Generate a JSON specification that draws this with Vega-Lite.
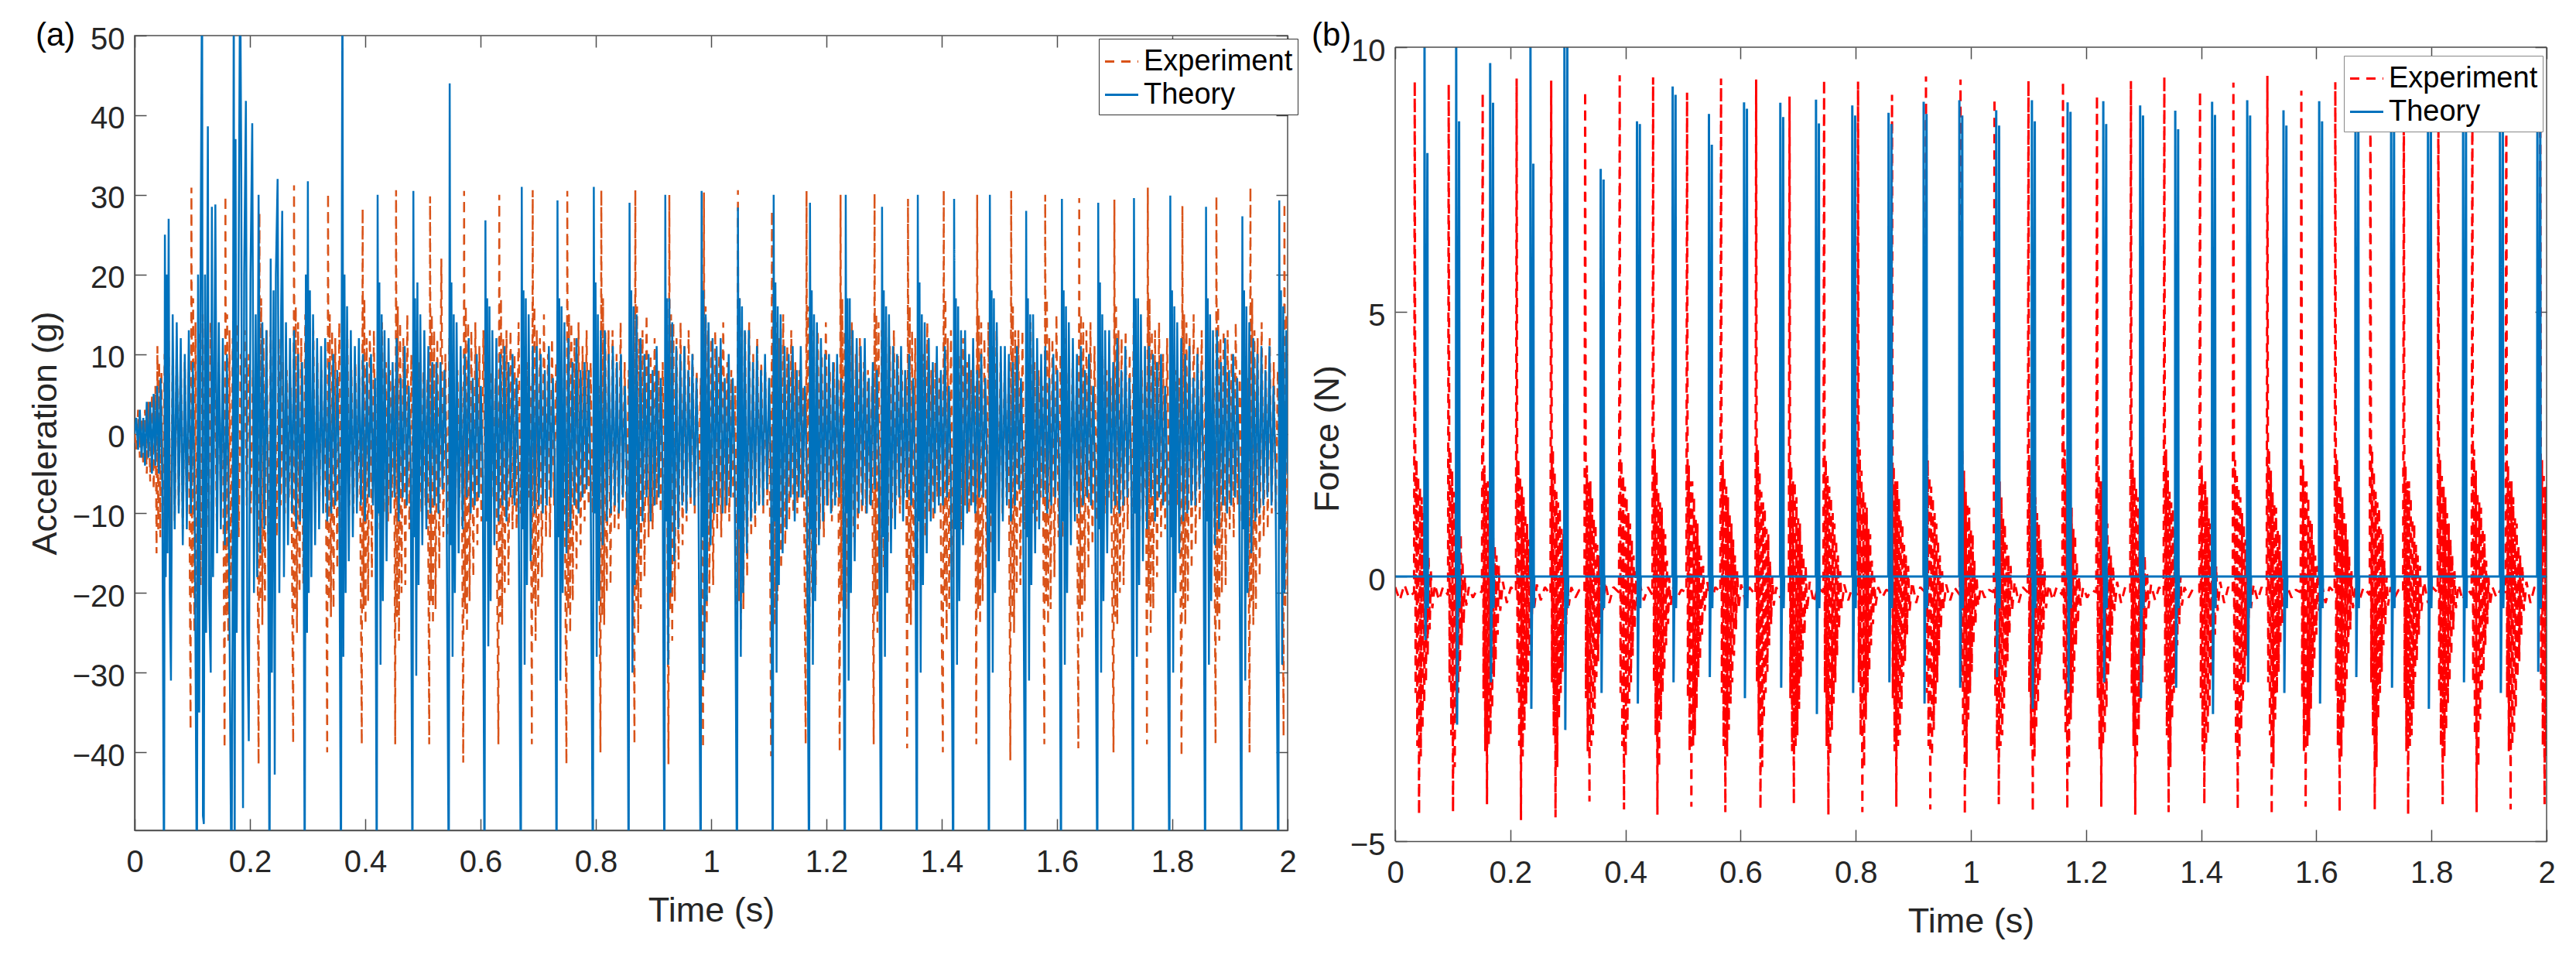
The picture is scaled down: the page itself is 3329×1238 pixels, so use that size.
{
"$schema":"https://vega.github.io/schema/vega-lite/v6.json",
"background":"white",
"padding":{"left":35,"top":24,"right":5,"bottom":5},
"spacing":14,
"config":{
"font":"Liberation Sans",
"view":{"stroke":null},
"axis":{"grid":false,"domainColor":"#4d4d4d","domainWidth":1.5,"tickColor":"#4d4d4d","tickWidth":1.5,"tickSize":-15,"labelColor":"#262626","labelFontSize":40,"labelFont":"Liberation Sans","titleColor":"#262626","titleFontSize":45,"titleFont":"Liberation Sans","titleFontWeight":"normal","labelFlush":false,"labelOverlap":false},
"axisX":{"labelPadding":36,"titlePadding":20},
"axisY":{"labelPadding":28,"titlePadding":6,"labelOffset":5},
"legend":{"fillColor":"white","strokeColor":"#333333","padding":6,"rowPadding":0,"labelFontSize":38,"labelColor":"black","labelFont":"Liberation Sans","labelOffset":5,"labelLimit":500,"symbolType":"stroke","symbolSize":1850,"symbolStrokeWidth":3},
"title":{"fontSize":42,"fontWeight":"normal","color":"black","font":"Liberation Sans","anchor":"start","frame":"group","baseline":"alphabetic","offset":0}
},
"resolve":{"scale":{"color":"independent","strokeDash":"independent"}},
"datasets":{
"ab":[{"t":0,"v":0},{"t":3,"v":2},{"t":6,"v":-2},{"t":9,"v":3},{"t":12,"v":-3},{"t":15,"v":2},{"t":18,"v":-4},{"t":21,"v":4},{"t":24,"v":-3},{"t":27,"v":4},{"t":30,"v":-5},{"t":33,"v":5},{"t":36,"v":-4},{"t":39,"v":6},{"t":42,"v":-5},{"t":45,"v":7},{"t":48,"v":-6},
{"t":51,"v":-60},{"t":52.5,"v":25},{"t":54,"v":-18},{"t":55.5,"v":20},{"t":57,"v":-15},{"t":59,"v":27},{"t":61,"v":-20},{"t":63,"v":-31},{"t":66,"v":15},{"t":69.5,"v":-12},{"t":73,"v":14},{"t":76.5,"v":-10},{"t":80,"v":12},{"t":83.5,"v":-14},{"t":87,"v":10},{"t":90.5,"v":-12},{"t":94,"v":13},{"t":97.5,"v":-10},{"t":101,"v":9},{"t":104.5,"v":-12},
{"t":108,"v":-60},{"t":110,"v":20},{"t":112,"v":-35},{"t":114,"v":15},{"t":117,"v":60},{"t":118.5,"v":-48},{"t":120,"v":-49},{"t":122,"v":20},{"t":124,"v":-25},{"t":127,"v":38.6},{"t":129,"v":-20},{"t":132,"v":-30},{"t":134,"v":28.5},{"t":136,"v":-18},{"t":140,"v":28.8},{"t":143,"v":-15},{"t":146,"v":14},{"t":149.5,"v":-12},{"t":153,"v":12},{"t":156.5,"v":-14},{"t":160,"v":10},{"t":163.5,"v":-12},
{"t":168,"v":-60},{"t":170,"v":-20},{"t":172,"v":60},{"t":173.5,"v":-60},{"t":175,"v":37},{"t":177,"v":-25},{"t":180,"v":15},{"t":183,"v":60},{"t":185,"v":32},{"t":186.5,"v":-20},{"t":188,"v":-47},{"t":190,"v":20},{"t":193,"v":41.8},{"t":195.5,"v":-25},{"t":198,"v":-38.6},{"t":201,"v":20},{"t":204,"v":39},{"t":207,"v":-20},{"t":210,"v":15},{"t":212.5,"v":-18},{"t":215,"v":30},{"t":218,"v":-15},{"t":221.5,"v":14},{"t":225,"v":-12},{"t":228.5,"v":13},{"t":231.5,"v":-10},
{"t":234,"v":-60},{"t":236,"v":22},{"t":238,"v":-30},{"t":241,"v":18},{"t":243,"v":-42.8},{"t":245,"v":20},{"t":248,"v":32},{"t":251,"v":-20},{"t":254,"v":15},{"t":256,"v":28},{"t":259,"v":-18},{"t":262.5,"v":14},{"t":266,"v":-14},{"t":269.5,"v":12},{"t":273,"v":-10},{"t":276.5,"v":13},{"t":280,"v":-12},{"t":283.5,"v":10},{"t":287,"v":-11},{"t":290.5,"v":9},{"t":293,"v":-6},
{"t":295,"v":-60},{"t":297,"v":20},{"t":299,"v":-25},{"t":300.5,"v":31.7},{"t":302,"v":-20},{"t":304,"v":18},{"t":306.5,"v":-18},{"t":309.5,"v":15},{"t":313,"v":-14},{"t":316.5,"v":12},{"t":320,"v":-12},{"t":323.5,"v":11},{"t":327,"v":-10},{"t":330.5,"v":12},{"t":334,"v":-11},{"t":337.5,"v":9},{"t":341,"v":-10},{"t":344.5,"v":10},{"t":348,"v":-9},{"t":351.5,"v":8},{"t":355,"v":-7},
{"t":358,"v":-60},{"t":359.5,"v":29},{"t":360.5,"v":60},{"t":362,"v":-28},{"t":364,"v":20},{"t":366,"v":-20},{"t":368.5,"v":16},{"t":371.5,"v":-16},{"t":375,"v":13},{"t":378.5,"v":-13},{"t":382,"v":11},{"t":385.5,"v":-10},{"t":389,"v":12},{"t":392.5,"v":-9},{"t":396,"v":10},{"t":399.5,"v":-11},{"t":403,"v":9},{"t":406.5,"v":-8},{"t":410,"v":10},{"t":413.5,"v":-9},{"t":417,"v":7},
{"t":420,"v":-60},{"t":421.5,"v":30},{"t":423,"v":-10},{"t":424.5,"v":19},{"t":426.5,"v":-29},{"t":428.5,"v":15},{"t":430.5,"v":-21},{"t":433.5,"v":13},{"t":437,"v":-16},{"t":440.5,"v":12},{"t":444,"v":-10},{"t":447.5,"v":9},{"t":451,"v":-8},{"t":454.5,"v":12},{"t":458,"v":-11},{"t":461.5,"v":7},{"t":465,"v":-8},{"t":468.5,"v":11},{"t":472,"v":-9},{"t":475.5,"v":6},{"t":479,"v":-5},
{"t":482,"v":-60},{"t":483.5,"v":30.5},{"t":485,"v":-13},{"t":486.5,"v":17},{"t":488.5,"v":-30.4},{"t":490.5,"v":19},{"t":492.5,"v":-19},{"t":495.5,"v":15},{"t":499,"v":-14},{"t":502.5,"v":13},{"t":506,"v":-12},{"t":509.5,"v":11},{"t":513,"v":-10},{"t":516.5,"v":9},{"t":520,"v":-9},{"t":523.5,"v":9},{"t":527,"v":-10},{"t":530.5,"v":9},{"t":534,"v":-7},{"t":537.5,"v":8},{"t":541,"v":-6},
{"t":545,"v":-60},{"t":546.5,"v":44},{"t":548,"v":-14},{"t":549.5,"v":19},{"t":551.5,"v":-28},{"t":553.5,"v":15},{"t":555.5,"v":-20},{"t":558.5,"v":14},{"t":562,"v":-15},{"t":565.5,"v":11},{"t":569,"v":-12},{"t":572.5,"v":10},{"t":576,"v":-8},{"t":579.5,"v":12},{"t":583,"v":-10},{"t":586.5,"v":7},{"t":590,"v":-9},{"t":593.5,"v":10},{"t":597,"v":-8},{"t":600.5,"v":6},{"t":604,"v":-6},
{"t":607,"v":-60},{"t":608.5,"v":26.8},{"t":610,"v":-11},{"t":611.5,"v":17},{"t":613.5,"v":-26.7},{"t":615.5,"v":16},{"t":617.5,"v":-21},{"t":620.5,"v":13},{"t":624,"v":-14},{"t":627.5,"v":12},{"t":631,"v":-11},{"t":634.5,"v":10},{"t":638,"v":-9},{"t":641.5,"v":11},{"t":645,"v":-11},{"t":648.5,"v":9},{"t":652,"v":-8},{"t":655.5,"v":10},{"t":659,"v":-9},{"t":662.5,"v":7},{"t":666,"v":-6},
{"t":670,"v":-60},{"t":671.5,"v":31},{"t":673,"v":-12},{"t":674.5,"v":18},{"t":676.5,"v":-29},{"t":678.5,"v":17},{"t":680.5,"v":-19},{"t":683.5,"v":15},{"t":687,"v":-16},{"t":690.5,"v":11},{"t":694,"v":-10},{"t":697.5,"v":11},{"t":701,"v":-9},{"t":704.5,"v":10},{"t":708,"v":-10},{"t":711.5,"v":8},{"t":715,"v":-9},{"t":718.5,"v":11},{"t":722,"v":-8},{"t":725.5,"v":7},{"t":729,"v":-5},
{"t":732,"v":-60},{"t":733.5,"v":29.3},{"t":735,"v":-13},{"t":736.5,"v":17},{"t":738.5,"v":-31},{"t":740.5,"v":16},{"t":742.5,"v":-20},{"t":745.5,"v":14},{"t":749,"v":-15},{"t":752.5,"v":12},{"t":756,"v":-12},{"t":759.5,"v":9},{"t":763,"v":-9},{"t":766.5,"v":12},{"t":770,"v":-10},{"t":773.5,"v":8},{"t":777,"v":-8},{"t":780.5,"v":9},{"t":784,"v":-7},{"t":787.5,"v":8},{"t":791,"v":-6},
{"t":795,"v":-60},{"t":796.5,"v":31},{"t":798,"v":-10},{"t":799.5,"v":19},{"t":801.5,"v":-28},{"t":803.5,"v":15},{"t":805.5,"v":-21},{"t":808.5,"v":13},{"t":812,"v":-14},{"t":815.5,"v":13},{"t":819,"v":-11},{"t":822.5,"v":10},{"t":826,"v":-10},{"t":829.5,"v":11},{"t":833,"v":-9},{"t":836.5,"v":9},{"t":840,"v":-10},{"t":843.5,"v":10},{"t":847,"v":-8},{"t":850.5,"v":6},{"t":854,"v":-6},
{"t":857,"v":-60},{"t":858.5,"v":29},{"t":860,"v":-12},{"t":861.5,"v":18},{"t":863.5,"v":-30},{"t":865.5,"v":16},{"t":867.5,"v":-19},{"t":870.5,"v":15},{"t":874,"v":-15},{"t":877.5,"v":12},{"t":881,"v":-11},{"t":884.5,"v":10},{"t":888,"v":-8},{"t":891.5,"v":10},{"t":895,"v":-11},{"t":898.5,"v":8},{"t":902,"v":-9},{"t":905.5,"v":11},{"t":909,"v":-8},{"t":912.5,"v":7},{"t":916,"v":-5},
{"t":919,"v":-60},{"t":920.5,"v":30},{"t":922,"v":-11},{"t":923.5,"v":17},{"t":925.5,"v":-29},{"t":927.5,"v":17},{"t":929.5,"v":-20},{"t":932.5,"v":14},{"t":936,"v":-16},{"t":939.5,"v":11},{"t":943,"v":-12},{"t":946.5,"v":10},{"t":950,"v":-9},{"t":953.5,"v":11},{"t":957,"v":-10},{"t":960.5,"v":8},{"t":964,"v":-8},{"t":967.5,"v":10},{"t":971,"v":-9},{"t":974.5,"v":7},{"t":978,"v":-6},
{"t":982,"v":-60},{"t":983.5,"v":30.5},{"t":985,"v":-13},{"t":986.5,"v":18},{"t":988.5,"v":-30},{"t":990.5,"v":15},{"t":992.5,"v":-21},{"t":995.5,"v":14},{"t":999,"v":-14},{"t":1002.5,"v":12},{"t":1006,"v":-10},{"t":1009.5,"v":11},{"t":1013,"v":-9},{"t":1016.5,"v":12},{"t":1020,"v":-10},{"t":1023.5,"v":7},{"t":1027,"v":-9},{"t":1030.5,"v":10},{"t":1034,"v":-8},{"t":1037.5,"v":7},{"t":1041,"v":-6},
{"t":1045,"v":-60},{"t":1046.5,"v":28.4},{"t":1048,"v":-12},{"t":1049.5,"v":17},{"t":1051.5,"v":-28},{"t":1053.5,"v":16},{"t":1055.5,"v":-20},{"t":1058.5,"v":13},{"t":1062,"v":-15},{"t":1065.5,"v":13},{"t":1069,"v":-11},{"t":1072.5,"v":9},{"t":1076,"v":-10},{"t":1079.5,"v":11},{"t":1083,"v":-9},{"t":1086.5,"v":8},{"t":1090,"v":-9},{"t":1093.5,"v":10},{"t":1097,"v":-7},{"t":1100.5,"v":7},{"t":1104,"v":-6},
{"t":1107,"v":-60},{"t":1108.5,"v":30},{"t":1110,"v":-11},{"t":1111.5,"v":19},{"t":1113.5,"v":-30},{"t":1115.5,"v":16},{"t":1117.5,"v":-19},{"t":1120.5,"v":15},{"t":1124,"v":-15},{"t":1127.5,"v":11},{"t":1131,"v":-12},{"t":1134.5,"v":10},{"t":1138,"v":-8},{"t":1141.5,"v":11},{"t":1145,"v":-11},{"t":1148.5,"v":8},{"t":1152,"v":-8},{"t":1155.5,"v":11},{"t":1159,"v":-8},{"t":1162.5,"v":6},{"t":1166,"v":-5},
{"t":1170,"v":-60},{"t":1171.5,"v":29},{"t":1173,"v":-12},{"t":1174.5,"v":18},{"t":1176.5,"v":-29},{"t":1178.5,"v":15},{"t":1180.5,"v":-21},{"t":1183.5,"v":14},{"t":1187,"v":-14},{"t":1190.5,"v":12},{"t":1194,"v":-11},{"t":1197.5,"v":10},{"t":1201,"v":-9},{"t":1204.5,"v":10},{"t":1208,"v":-10},{"t":1211.5,"v":9},{"t":1215,"v":-9},{"t":1218.5,"v":10},{"t":1222,"v":-8},{"t":1225.5,"v":7},{"t":1229,"v":-6},
{"t":1232,"v":-60},{"t":1233.5,"v":30},{"t":1235,"v":-10},{"t":1236.5,"v":17},{"t":1238.5,"v":-31},{"t":1240.5,"v":17},{"t":1242.5,"v":-20},{"t":1245.5,"v":13},{"t":1249,"v":-16},{"t":1252.5,"v":12},{"t":1256,"v":-10},{"t":1259.5,"v":11},{"t":1263,"v":-9},{"t":1266.5,"v":12},{"t":1270,"v":-10},{"t":1273.5,"v":7},{"t":1277,"v":-9},{"t":1280.5,"v":9},{"t":1284,"v":-7},{"t":1287.5,"v":8},{"t":1291,"v":-5},
{"t":1295,"v":-60},{"t":1296.5,"v":28.5},{"t":1298,"v":-13},{"t":1299.5,"v":18},{"t":1301.5,"v":-28},{"t":1303.5,"v":16},{"t":1305.5,"v":-20},{"t":1308.5,"v":15},{"t":1312,"v":-15},{"t":1315.5,"v":11},{"t":1319,"v":-12},{"t":1322.5,"v":10},{"t":1326,"v":-8},{"t":1329.5,"v":11},{"t":1333,"v":-11},{"t":1336.5,"v":8},{"t":1340,"v":-8},{"t":1343.5,"v":10},{"t":1347,"v":-9},{"t":1350.5,"v":7},{"t":1354,"v":-6},
{"t":1357,"v":-60},{"t":1358.5,"v":30},{"t":1360,"v":-11},{"t":1361.5,"v":19},{"t":1363.5,"v":-30},{"t":1365.5,"v":15},{"t":1367.5,"v":-19},{"t":1370.5,"v":14},{"t":1374,"v":-15},{"t":1377.5,"v":12},{"t":1381,"v":-11},{"t":1384.5,"v":9},{"t":1388,"v":-10},{"t":1391.5,"v":11},{"t":1395,"v":-9},{"t":1398.5,"v":8},{"t":1402,"v":-9},{"t":1405.5,"v":11},{"t":1409,"v":-8},{"t":1412.5,"v":6},{"t":1416,"v":-6},
{"t":1420,"v":-60},{"t":1421.5,"v":29.5},{"t":1423,"v":-12},{"t":1424.5,"v":17},{"t":1426.5,"v":-29},{"t":1428.5,"v":16},{"t":1430.5,"v":-21},{"t":1433.5,"v":13},{"t":1437,"v":-14},{"t":1440.5,"v":13},{"t":1444,"v":-10},{"t":1447.5,"v":10},{"t":1451,"v":-9},{"t":1454.5,"v":12},{"t":1458,"v":-10},{"t":1461.5,"v":8},{"t":1465,"v":-8},{"t":1468.5,"v":10},{"t":1472,"v":-8},{"t":1475.5,"v":7},{"t":1479,"v":-5},
{"t":1482,"v":-60},{"t":1483.5,"v":30},{"t":1485,"v":-10},{"t":1486.5,"v":18},{"t":1488.5,"v":-30},{"t":1490.5,"v":17},{"t":1492.5,"v":-20},{"t":1495.5,"v":14},{"t":1499,"v":-16},{"t":1502.5,"v":11},{"t":1506,"v":-11},{"t":1509.5,"v":11},{"t":1513,"v":-9},{"t":1516.5,"v":10},{"t":1520,"v":-11},{"t":1523.5,"v":9},{"t":1527,"v":-9},{"t":1530.5,"v":11},{"t":1534,"v":-7},{"t":1537.5,"v":7},{"t":1541,"v":-6},
{"t":1545,"v":-60},{"t":1546.5,"v":28},{"t":1548,"v":-13},{"t":1549.5,"v":17},{"t":1551.5,"v":-31},{"t":1553.5,"v":15},{"t":1555.5,"v":-19},{"t":1558.5,"v":15},{"t":1562,"v":-15},{"t":1565.5,"v":12},{"t":1569,"v":-12},{"t":1572.5,"v":10},{"t":1576,"v":-8},{"t":1579.5,"v":11},{"t":1583,"v":-10},{"t":1586.5,"v":7},{"t":1590,"v":-9},{"t":1593.5,"v":10},{"t":1597,"v":-8},{"t":1600.5,"v":8},{"t":1604,"v":-6},
{"t":1607,"v":-60},{"t":1608.5,"v":29.5},{"t":1610,"v":-11},{"t":1611.5,"v":18},{"t":1613.5,"v":-29},{"t":1615.5,"v":16},{"t":1617.5,"v":-20},{"t":1620.5,"v":14},{"t":1624,"v":-14},{"t":1627.5,"v":12},{"t":1631,"v":-11},{"t":1634.5,"v":10},{"t":1638,"v":-10},{"t":1641.5,"v":11},{"t":1645,"v":-9},{"t":1648.5,"v":8},{"t":1652,"v":-8},{"t":1655.5,"v":10},{"t":1659,"v":-9},{"t":1662.5,"v":6},{"t":1666,"v":-5},
{"t":1670,"v":-60},{"t":1671.5,"v":29},{"t":1673,"v":-12},{"t":1674.5,"v":19},{"t":1676.5,"v":-30},{"t":1678.5,"v":15},{"t":1680.5,"v":-21},{"t":1683.5,"v":13},{"t":1687,"v":-15},{"t":1690.5,"v":13},{"t":1694,"v":-10},{"t":1697.5,"v":9},{"t":1701,"v":-9},{"t":1704.5,"v":12},{"t":1708,"v":-10},{"t":1711.5,"v":8},{"t":1715,"v":-9},{"t":1718.5,"v":11},{"t":1722,"v":-8},{"t":1725.5,"v":7},{"t":1729,"v":-6},
{"t":1732,"v":-60},{"t":1733.5,"v":29.6},{"t":1735,"v":-10},{"t":1736.5,"v":17},{"t":1738.5,"v":-28},{"t":1740.5,"v":17},{"t":1742.5,"v":-19},{"t":1745.5,"v":15},{"t":1749,"v":-16},{"t":1752.5,"v":11},{"t":1756,"v":-12},{"t":1759.5,"v":11},{"t":1763,"v":-8},{"t":1766.5,"v":10},{"t":1770,"v":-11},{"t":1773.5,"v":9},{"t":1777,"v":-8},{"t":1780.5,"v":10},{"t":1784,"v":-9},{"t":1787.5,"v":6},{"t":1791,"v":-5},
{"t":1795,"v":-60},{"t":1796.5,"v":29.9},{"t":1798,"v":-13},{"t":1799.5,"v":18},{"t":1801.5,"v":-30},{"t":1803.5,"v":16},{"t":1805.5,"v":-20},{"t":1808.5,"v":14},{"t":1812,"v":-15},{"t":1815.5,"v":12},{"t":1819,"v":-11},{"t":1822.5,"v":10},{"t":1826,"v":-10},{"t":1829.5,"v":11},{"t":1833,"v":-9},{"t":1836.5,"v":7},{"t":1840,"v":-9},{"t":1843.5,"v":10},{"t":1847,"v":-7},{"t":1850.5,"v":8},{"t":1854,"v":-6},
{"t":1857,"v":-60},{"t":1858.5,"v":28.5},{"t":1860,"v":-11},{"t":1861.5,"v":17},{"t":1863.5,"v":-29},{"t":1865.5,"v":15},{"t":1867.5,"v":-21},{"t":1870.5,"v":13},{"t":1874,"v":-14},{"t":1877.5,"v":13},{"t":1881,"v":-12},{"t":1884.5,"v":9},{"t":1888,"v":-9},{"t":1891.5,"v":12},{"t":1895,"v":-10},{"t":1898.5,"v":8},{"t":1902,"v":-9},{"t":1905.5,"v":10},{"t":1909,"v":-8},{"t":1912.5,"v":7},{"t":1916,"v":-6},
{"t":1920,"v":-60},{"t":1921.5,"v":27.3},{"t":1923,"v":-12},{"t":1924.5,"v":18},{"t":1926.5,"v":-31},{"t":1928.5,"v":16},{"t":1930.5,"v":-20},{"t":1933.5,"v":14},{"t":1937,"v":-15},{"t":1940.5,"v":12},{"t":1944,"v":-11},{"t":1947.5,"v":10},{"t":1951,"v":-10},{"t":1954.5,"v":11},{"t":1958,"v":-9},{"t":1961.5,"v":8},{"t":1965,"v":-8},{"t":1968.5,"v":11},{"t":1972,"v":-9},{"t":1975.5,"v":6},{"t":1979,"v":-5},
{"t":1984,"v":-60},{"t":1985.5,"v":29.3},{"t":1987,"v":-12},{"t":1988.5,"v":18},{"t":1990.5,"v":-29},{"t":1992.5,"v":16},{"t":1994.5,"v":-20},{"t":1997.5,"v":13},{"t":2000,"v":-5}],
"ae":[{"t":0,"v":0},{"t":3,"v":-2},{"t":6,"v":3},{"t":9,"v":-3},{"t":12,"v":2},{"t":15,"v":-4},{"t":18,"v":3},{"t":21,"v":-5},{"t":24,"v":4},{"t":27,"v":-6},{"t":30,"v":5},{"t":33,"v":-7},{"t":36,"v":6},
{"t":38,"v":-15},{"t":39.5,"v":11},{"t":41,"v":-12},{"t":42.5,"v":9},{"t":44.5,"v":-13},{"t":46.5,"v":8},{"t":49,"v":-12},{"t":52,"v":10},{"t":55.5,"v":-14},{"t":59,"v":12},{"t":62.5,"v":-16},{"t":66,"v":9},{"t":69.5,"v":-11},{"t":73,"v":11},{"t":76.5,"v":-9},{"t":80,"v":10},{"t":83.5,"v":-12},{"t":87,"v":9},{"t":90.5,"v":-10},{"t":94,"v":8},
{"t":97,"v":-37.2},{"t":98.5,"v":30.9},{"t":100,"v":-20},{"t":101.5,"v":17},{"t":103.5,"v":-25},{"t":105.5,"v":14},{"t":108,"v":-22},{"t":111,"v":13},{"t":114.5,"v":-19},{"t":118,"v":15},{"t":121.5,"v":-14},{"t":125,"v":11},{"t":128.5,"v":-12},{"t":132,"v":14},{"t":135.5,"v":-10},{"t":139,"v":9},{"t":142.5,"v":-11},{"t":146,"v":9},{"t":149.5,"v":-8},{"t":153,"v":7},
{"t":156,"v":-39.5},{"t":157.5,"v":29.9},{"t":159,"v":-23},{"t":160.5,"v":15},{"t":162.5,"v":-26},{"t":164.5,"v":13},{"t":167,"v":-20},{"t":170,"v":12},{"t":173.5,"v":-17},{"t":177,"v":14},{"t":180.5,"v":-13},{"t":184,"v":10},{"t":187.5,"v":-12},{"t":191,"v":13},{"t":194.5,"v":-9},{"t":198,"v":10},{"t":201.5,"v":-10},{"t":205,"v":8},{"t":208.5,"v":-9},{"t":212,"v":7},
{"t":215,"v":-41.5},{"t":216.5,"v":27.8},{"t":218,"v":-21},{"t":219.5,"v":17},{"t":221.5,"v":-24},{"t":223.5,"v":12},{"t":226,"v":-21},{"t":229,"v":13},{"t":232.5,"v":-18},{"t":236,"v":13},{"t":239.5,"v":-12},{"t":243,"v":10},{"t":246.5,"v":-13},{"t":250,"v":12},{"t":253.5,"v":-9},{"t":257,"v":9},{"t":260.5,"v":-10},{"t":264,"v":8},{"t":267.5,"v":-8},{"t":271,"v":6},
{"t":275,"v":-38.9},{"t":276.5,"v":31.2},{"t":278,"v":-22},{"t":279.5,"v":16},{"t":281.5,"v":-25},{"t":283.5,"v":14},{"t":286,"v":-20},{"t":289,"v":12},{"t":292.5,"v":-19},{"t":296,"v":15},{"t":299.5,"v":-13},{"t":303,"v":11},{"t":306.5,"v":-11},{"t":310,"v":13},{"t":313.5,"v":-10},{"t":317,"v":9},{"t":320.5,"v":-9},{"t":324,"v":8},{"t":327.5,"v":-8},{"t":331,"v":7},
{"t":334,"v":-40},{"t":335.5,"v":30.2},{"t":337,"v":-21},{"t":338.5,"v":15},{"t":340.5,"v":-23},{"t":342.5,"v":13},{"t":345,"v":-22},{"t":348,"v":12},{"t":351.5,"v":-17},{"t":355,"v":14},{"t":358.5,"v":-14},{"t":362,"v":10},{"t":365.5,"v":-12},{"t":369,"v":12},{"t":372.5,"v":-9},{"t":376,"v":8},{"t":379.5,"v":-10},{"t":383,"v":9},{"t":386.5,"v":-8},{"t":390,"v":7},
{"t":394,"v":-39},{"t":395.5,"v":28.3},{"t":397,"v":-22},{"t":398.5,"v":17},{"t":400.5,"v":-24},{"t":402.5,"v":12},{"t":405,"v":-21},{"t":408,"v":13},{"t":411.5,"v":-18},{"t":415,"v":13},{"t":418.5,"v":-13},{"t":422,"v":11},{"t":425.5,"v":-12},{"t":429,"v":14},{"t":432.5,"v":-10},{"t":436,"v":9},{"t":439.5,"v":-11},{"t":443,"v":8},{"t":446.5,"v":-8},{"t":450,"v":6},
{"t":452,"v":-39},{"t":453.5,"v":30.6},{"t":455,"v":-23},{"t":456.5,"v":16},{"t":458.5,"v":-26},{"t":460.5,"v":14},{"t":463,"v":-20},{"t":466,"v":12},{"t":469.5,"v":-19},{"t":473,"v":15},{"t":476.5,"v":-12},{"t":480,"v":10},{"t":483.5,"v":-12},{"t":487,"v":13},{"t":490.5,"v":-9},{"t":494,"v":9},{"t":497.5,"v":-10},{"t":501,"v":8},{"t":504.5,"v":-9},{"t":508,"v":7},
{"t":511,"v":-39},{"t":512.5,"v":29.8},{"t":514,"v":-21},{"t":515.5,"v":15},{"t":517.5,"v":-24},{"t":519.5,"v":13},{"t":522,"v":-22},{"t":525,"v":12},{"t":528.5,"v":-17},{"t":532,"v":22},{"t":535.5,"v":-13},{"t":539,"v":10},{"t":542.5,"v":-13},{"t":546,"v":12},{"t":549.5,"v":-10},{"t":553,"v":9},{"t":556.5,"v":-9},{"t":560,"v":8},{"t":563.5,"v":-8},{"t":567,"v":6},
{"t":570,"v":-41.3},{"t":571.5,"v":30.5},{"t":573,"v":-22},{"t":574.5,"v":16},{"t":576.5,"v":-25},{"t":578.5,"v":14},{"t":581,"v":-21},{"t":584,"v":13},{"t":587.5,"v":-18},{"t":591,"v":14},{"t":594.5,"v":-14},{"t":598,"v":11},{"t":601.5,"v":-11},{"t":605,"v":13},{"t":608.5,"v":-9},{"t":612,"v":10},{"t":615.5,"v":-10},{"t":619,"v":8},{"t":622.5,"v":-8},{"t":626,"v":7},
{"t":631,"v":-39},{"t":632.5,"v":30},{"t":634,"v":-23},{"t":635.5,"v":17},{"t":637.5,"v":-24},{"t":639.5,"v":12},{"t":642,"v":-20},{"t":645,"v":13},{"t":648.5,"v":-19},{"t":652,"v":13},{"t":655.5,"v":-12},{"t":659,"v":10},{"t":662.5,"v":-12},{"t":666,"v":14},{"t":669.5,"v":-10},{"t":673,"v":8},{"t":676.5,"v":-11},{"t":680,"v":9},{"t":683.5,"v":-8},{"t":687,"v":6},
{"t":689,"v":-39},{"t":690.5,"v":30.6},{"t":692,"v":-21},{"t":693.5,"v":16},{"t":695.5,"v":-26},{"t":697.5,"v":13},{"t":700,"v":-22},{"t":703,"v":12},{"t":706.5,"v":-18},{"t":710,"v":15},{"t":713.5,"v":-13},{"t":717,"v":10},{"t":720.5,"v":-13},{"t":724,"v":12},{"t":727.5,"v":-9},{"t":731,"v":9},{"t":734.5,"v":-10},{"t":738,"v":8},{"t":741.5,"v":-9},{"t":745,"v":7},
{"t":749,"v":-41.5},{"t":750.5,"v":30.5},{"t":752,"v":-22},{"t":753.5,"v":15},{"t":755.5,"v":-25},{"t":757.5,"v":14},{"t":760,"v":-21},{"t":763,"v":12},{"t":766.5,"v":-17},{"t":770,"v":14},{"t":773.5,"v":-14},{"t":777,"v":11},{"t":780.5,"v":-11},{"t":784,"v":13},{"t":787.5,"v":-9},{"t":791,"v":9},{"t":794.5,"v":-10},{"t":798,"v":8},{"t":801.5,"v":-8},{"t":805,"v":6},
{"t":808,"v":-40},{"t":809.5,"v":30.6},{"t":811,"v":-23},{"t":812.5,"v":17},{"t":814.5,"v":-24},{"t":816.5,"v":13},{"t":819,"v":-20},{"t":822,"v":13},{"t":825.5,"v":-19},{"t":829,"v":13},{"t":832.5,"v":-12},{"t":836,"v":10},{"t":839.5,"v":-12},{"t":843,"v":14},{"t":846.5,"v":-10},{"t":850,"v":9},{"t":853.5,"v":-11},{"t":857,"v":8},{"t":860.5,"v":-8},{"t":864,"v":7},
{"t":867,"v":-39},{"t":868.5,"v":30.6},{"t":870,"v":-21},{"t":871.5,"v":16},{"t":873.5,"v":-25},{"t":875.5,"v":12},{"t":878,"v":-22},{"t":881,"v":13},{"t":884.5,"v":-18},{"t":888,"v":15},{"t":891.5,"v":-13},{"t":895,"v":10},{"t":898.5,"v":-12},{"t":902,"v":12},{"t":905.5,"v":-9},{"t":909,"v":8},{"t":912.5,"v":-10},{"t":916,"v":9},{"t":919.5,"v":-9},{"t":923,"v":6},
{"t":926,"v":-41.5},{"t":927.5,"v":30},{"t":929,"v":-22},{"t":930.5,"v":15},{"t":932.5,"v":-26},{"t":934.5,"v":14},{"t":937,"v":-21},{"t":940,"v":12},{"t":943.5,"v":-17},{"t":947,"v":14},{"t":950.5,"v":-14},{"t":954,"v":11},{"t":957.5,"v":-11},{"t":961,"v":13},{"t":964.5,"v":-9},{"t":968,"v":10},{"t":971.5,"v":-10},{"t":975,"v":8},{"t":978.5,"v":-8},{"t":982,"v":7},
{"t":986,"v":-39.5},{"t":987.5,"v":30.3},{"t":989,"v":-23},{"t":990.5,"v":16},{"t":992.5,"v":-24},{"t":994.5,"v":13},{"t":997,"v":-20},{"t":1000,"v":12},{"t":1003.5,"v":-19},{"t":1007,"v":13},{"t":1010.5,"v":-12},{"t":1014,"v":10},{"t":1017.5,"v":-13},{"t":1021,"v":14},{"t":1024.5,"v":-10},{"t":1028,"v":9},{"t":1031.5,"v":-11},{"t":1035,"v":8},{"t":1038.5,"v":-8},{"t":1042,"v":6},
{"t":1045,"v":-39},{"t":1046.5,"v":30.6},{"t":1048,"v":-21},{"t":1049.5,"v":17},{"t":1051.5,"v":-25},{"t":1053.5,"v":13},{"t":1056,"v":-22},{"t":1059,"v":13},{"t":1062.5,"v":-18},{"t":1066,"v":14},{"t":1069.5,"v":-13},{"t":1073,"v":10},{"t":1076.5,"v":-12},{"t":1080,"v":12},{"t":1083.5,"v":-9},{"t":1087,"v":9},{"t":1090.5,"v":-10},{"t":1094,"v":8},{"t":1097.5,"v":-9},{"t":1101,"v":7},
{"t":1104,"v":-40.5},{"t":1105.5,"v":28},{"t":1107,"v":-22},{"t":1108.5,"v":15},{"t":1110.5,"v":-24},{"t":1112.5,"v":14},{"t":1115,"v":-21},{"t":1118,"v":12},{"t":1121.5,"v":-17},{"t":1125,"v":15},{"t":1128.5,"v":-14},{"t":1132,"v":11},{"t":1135.5,"v":-11},{"t":1139,"v":13},{"t":1142.5,"v":-10},{"t":1146,"v":9},{"t":1149.5,"v":-10},{"t":1153,"v":8},{"t":1156.5,"v":-8},{"t":1160,"v":6},
{"t":1164,"v":-39},{"t":1165.5,"v":30.5},{"t":1167,"v":-23},{"t":1168.5,"v":16},{"t":1170.5,"v":-26},{"t":1172.5,"v":12},{"t":1175,"v":-20},{"t":1178,"v":13},{"t":1181.5,"v":-19},{"t":1185,"v":13},{"t":1188.5,"v":-12},{"t":1192,"v":10},{"t":1195.5,"v":-13},{"t":1199,"v":14},{"t":1202.5,"v":-9},{"t":1206,"v":8},{"t":1209.5,"v":-11},{"t":1213,"v":9},{"t":1216.5,"v":-8},{"t":1220,"v":7},
{"t":1223,"v":-40},{"t":1224.5,"v":30},{"t":1226,"v":-21},{"t":1227.5,"v":17},{"t":1229.5,"v":-24},{"t":1231.5,"v":13},{"t":1234,"v":-22},{"t":1237,"v":12},{"t":1240.5,"v":-18},{"t":1244,"v":14},{"t":1247.5,"v":-13},{"t":1251,"v":10},{"t":1254.5,"v":-12},{"t":1258,"v":12},{"t":1261.5,"v":-10},{"t":1265,"v":9},{"t":1268.5,"v":-10},{"t":1272,"v":8},{"t":1275.5,"v":-9},{"t":1279,"v":6},
{"t":1282,"v":-39},{"t":1283.5,"v":30.2},{"t":1285,"v":-22},{"t":1286.5,"v":15},{"t":1288.5,"v":-25},{"t":1290.5,"v":14},{"t":1293,"v":-21},{"t":1296,"v":13},{"t":1299.5,"v":-17},{"t":1303,"v":14},{"t":1306.5,"v":-14},{"t":1310,"v":11},{"t":1313.5,"v":-11},{"t":1317,"v":13},{"t":1320.5,"v":-9},{"t":1324,"v":10},{"t":1327.5,"v":-10},{"t":1331,"v":8},{"t":1334.5,"v":-8},{"t":1338,"v":7},
{"t":1340,"v":-39.5},{"t":1341.5,"v":29.5},{"t":1343,"v":-23},{"t":1344.5,"v":16},{"t":1346.5,"v":-24},{"t":1348.5,"v":13},{"t":1351,"v":-20},{"t":1354,"v":12},{"t":1357.5,"v":-19},{"t":1361,"v":13},{"t":1364.5,"v":-12},{"t":1368,"v":10},{"t":1371.5,"v":-13},{"t":1375,"v":14},{"t":1378.5,"v":-10},{"t":1382,"v":8},{"t":1385.5,"v":-11},{"t":1389,"v":9},{"t":1392.5,"v":-8},{"t":1396,"v":7},
{"t":1402,"v":-40},{"t":1403.5,"v":30.6},{"t":1405,"v":-21},{"t":1406.5,"v":17},{"t":1408.5,"v":-26},{"t":1410.5,"v":12},{"t":1413,"v":-22},{"t":1416,"v":13},{"t":1419.5,"v":-18},{"t":1423,"v":15},{"t":1426.5,"v":-13},{"t":1430,"v":10},{"t":1433.5,"v":-12},{"t":1437,"v":12},{"t":1440.5,"v":-9},{"t":1444,"v":9},{"t":1447.5,"v":-10},{"t":1451,"v":8},{"t":1454.5,"v":-9},{"t":1458,"v":6},
{"t":1460,"v":-39},{"t":1461.5,"v":30},{"t":1463,"v":-22},{"t":1464.5,"v":15},{"t":1466.5,"v":-24},{"t":1468.5,"v":14},{"t":1471,"v":-21},{"t":1474,"v":12},{"t":1477.5,"v":-17},{"t":1481,"v":14},{"t":1484.5,"v":-14},{"t":1488,"v":11},{"t":1491.5,"v":-11},{"t":1495,"v":13},{"t":1498.5,"v":-9},{"t":1502,"v":9},{"t":1505.5,"v":-10},{"t":1509,"v":8},{"t":1512.5,"v":-8},{"t":1516,"v":7},
{"t":1519,"v":-41},{"t":1520.5,"v":30.5},{"t":1522,"v":-23},{"t":1523.5,"v":16},{"t":1525.5,"v":-25},{"t":1527.5,"v":13},{"t":1530,"v":-20},{"t":1533,"v":13},{"t":1536.5,"v":-19},{"t":1540,"v":13},{"t":1543.5,"v":-12},{"t":1547,"v":10},{"t":1550.5,"v":-12},{"t":1554,"v":14},{"t":1557.5,"v":-10},{"t":1561,"v":9},{"t":1564.5,"v":-11},{"t":1568,"v":8},{"t":1571.5,"v":-8},{"t":1575,"v":6},
{"t":1578,"v":-39},{"t":1579.5,"v":30},{"t":1581,"v":-21},{"t":1582.5,"v":17},{"t":1584.5,"v":-24},{"t":1586.5,"v":12},{"t":1589,"v":-22},{"t":1592,"v":12},{"t":1595.5,"v":-18},{"t":1599,"v":15},{"t":1602.5,"v":-13},{"t":1606,"v":10},{"t":1609.5,"v":-13},{"t":1613,"v":12},{"t":1616.5,"v":-9},{"t":1620,"v":8},{"t":1623.5,"v":-10},{"t":1627,"v":9},{"t":1630.5,"v":-9},{"t":1634,"v":7},
{"t":1637,"v":-39.5},{"t":1638.5,"v":29.6},{"t":1640,"v":-22},{"t":1641.5,"v":15},{"t":1643.5,"v":-26},{"t":1645.5,"v":14},{"t":1648,"v":-21},{"t":1651,"v":13},{"t":1654.5,"v":-17},{"t":1658,"v":14},{"t":1661.5,"v":-14},{"t":1665,"v":11},{"t":1668.5,"v":-11},{"t":1672,"v":13},{"t":1675.5,"v":-9},{"t":1679,"v":10},{"t":1682.5,"v":-10},{"t":1686,"v":8},{"t":1689.5,"v":-8},{"t":1693,"v":7},
{"t":1698,"v":-40},{"t":1699.5,"v":29.4},{"t":1701,"v":-23},{"t":1702.5,"v":16},{"t":1704.5,"v":-24},{"t":1706.5,"v":13},{"t":1709,"v":-20},{"t":1712,"v":12},{"t":1715.5,"v":-19},{"t":1719,"v":13},{"t":1722.5,"v":-12},{"t":1726,"v":10},{"t":1729.5,"v":-12},{"t":1733,"v":14},{"t":1736.5,"v":-10},{"t":1740,"v":9},{"t":1743.5,"v":-11},{"t":1747,"v":8},{"t":1750.5,"v":-8},{"t":1754,"v":6},
{"t":1756,"v":-39},{"t":1757.5,"v":30.9},{"t":1759,"v":-21},{"t":1760.5,"v":17},{"t":1762.5,"v":-25},{"t":1764.5,"v":13},{"t":1767,"v":-22},{"t":1770,"v":13},{"t":1773.5,"v":-18},{"t":1777,"v":14},{"t":1780.5,"v":-13},{"t":1784,"v":10},{"t":1787.5,"v":-12},{"t":1791,"v":12},{"t":1794.5,"v":-9},{"t":1798,"v":9},{"t":1801.5,"v":-10},{"t":1805,"v":8},{"t":1808.5,"v":-9},{"t":1812,"v":7},
{"t":1816,"v":-40.5},{"t":1817.5,"v":28.6},{"t":1819,"v":-22},{"t":1820.5,"v":15},{"t":1822.5,"v":-24},{"t":1824.5,"v":14},{"t":1827,"v":-21},{"t":1830,"v":12},{"t":1833.5,"v":-17},{"t":1837,"v":15},{"t":1840.5,"v":-14},{"t":1844,"v":11},{"t":1847.5,"v":-11},{"t":1851,"v":13},{"t":1854.5,"v":-10},{"t":1858,"v":9},{"t":1861.5,"v":-10},{"t":1865,"v":8},{"t":1868.5,"v":-8},{"t":1872,"v":6},
{"t":1875,"v":-39},{"t":1876.5,"v":29.9},{"t":1878,"v":-23},{"t":1879.5,"v":16},{"t":1881.5,"v":-26},{"t":1883.5,"v":12},{"t":1886,"v":-20},{"t":1889,"v":13},{"t":1892.5,"v":-19},{"t":1896,"v":13},{"t":1899.5,"v":-12},{"t":1903,"v":10},{"t":1906.5,"v":-13},{"t":1910,"v":14},{"t":1913.5,"v":-9},{"t":1917,"v":8},{"t":1920.5,"v":-11},{"t":1924,"v":9},{"t":1927.5,"v":-8},{"t":1931,"v":7},
{"t":1934,"v":-40},{"t":1935.5,"v":31},{"t":1937,"v":-21},{"t":1938.5,"v":17},{"t":1940.5,"v":-24},{"t":1942.5,"v":13},{"t":1945,"v":-22},{"t":1948,"v":12},{"t":1951.5,"v":-18},{"t":1955,"v":14},{"t":1958.5,"v":-13},{"t":1962,"v":10},{"t":1965.5,"v":-12},{"t":1969,"v":12},{"t":1972.5,"v":-10},{"t":1976,"v":9},{"t":1979.5,"v":-10},{"t":1983,"v":8},{"t":1986.5,"v":-9},{"t":1990,"v":6},
{"t":1993,"v":-38},{"t":1994.5,"v":29},{"t":1996,"v":-22},{"t":1997.5,"v":15},{"t":2000,"v":-20}],
"bb":[{"t":0,"v":0},
{"t":50.6,"v":0},{"t":51,"v":10},{"t":52.5,"v":-1.2},{"t":54,"v":0},{"t":56,"v":8.0},{"t":56.8,"v":-0.6},{"t":57.6,"v":0},
{"t":105.6,"v":0},{"t":106,"v":10},{"t":107.5,"v":-2.8},{"t":109,"v":0},{"t":111,"v":8.6},{"t":111.8,"v":-0.6},{"t":112.6,"v":0},
{"t":164.6,"v":0},{"t":165,"v":9.7},{"t":166.5,"v":-2.0},{"t":168,"v":0},{"t":170,"v":8.95},{"t":170.8,"v":-0.6},{"t":171.6,"v":0},
{"t":234.6,"v":0},{"t":235,"v":10},{"t":236.5,"v":-2.5},{"t":238,"v":0},{"t":240,"v":7.8},{"t":240.8,"v":-0.6},{"t":241.6,"v":0},
{"t":293.6,"v":0},{"t":294,"v":10},{"t":295.5,"v":-2.9},{"t":297,"v":0},{"t":299,"v":10},{"t":299.8,"v":-0.6},{"t":300.6,"v":0},
{"t":356.6,"v":0},{"t":357,"v":7.7},{"t":358.5,"v":-2.2},{"t":360,"v":0},{"t":362,"v":7.5},{"t":362.8,"v":-0.6},{"t":363.6,"v":0},
{"t":419.6,"v":0},{"t":420,"v":8.6},{"t":421.5,"v":-2.4},{"t":423,"v":0},{"t":425,"v":8.55},{"t":425.8,"v":-0.6},{"t":426.6,"v":0},
{"t":481.6,"v":0},{"t":482,"v":9.26},{"t":483.5,"v":-2.0},{"t":485,"v":0},{"t":487,"v":9.1},{"t":487.8,"v":-0.6},{"t":488.6,"v":0},
{"t":544.6,"v":0},{"t":545,"v":8.74},{"t":546.5,"v":-1.9},{"t":548,"v":0},{"t":550,"v":8.16},{"t":550.8,"v":-0.6},{"t":551.6,"v":0},
{"t":605.6,"v":0},{"t":606,"v":8.96},{"t":607.5,"v":-2.3},{"t":609,"v":0},{"t":611,"v":8.84},{"t":611.8,"v":-0.6},{"t":612.6,"v":0},
{"t":668.6,"v":0},{"t":669,"v":8.95},{"t":670.5,"v":-2.1},{"t":672,"v":0},{"t":674,"v":8.68},{"t":674.8,"v":-0.6},{"t":675.6,"v":0},
{"t":730.6,"v":0},{"t":731,"v":9.01},{"t":732.5,"v":-2.6},{"t":734,"v":0},{"t":736,"v":8.56},{"t":736.8,"v":-0.6},{"t":737.6,"v":0},
{"t":793.6,"v":0},{"t":794,"v":8.9},{"t":795.5,"v":-2.2},{"t":797,"v":0},{"t":799,"v":8.71},{"t":799.8,"v":-0.6},{"t":800.6,"v":0},
{"t":856.6,"v":0},{"t":857,"v":8.76},{"t":858.5,"v":-2.0},{"t":860,"v":0},{"t":862,"v":8.55},{"t":862.8,"v":-0.6},{"t":863.6,"v":0},
{"t":917.6,"v":0},{"t":918,"v":8.97},{"t":919.5,"v":-2.4},{"t":921,"v":0},{"t":923,"v":8.74},{"t":923.8,"v":-0.6},{"t":924.6,"v":0},
{"t":979.6,"v":0},{"t":980,"v":9.0},{"t":981.5,"v":-2.1},{"t":983,"v":0},{"t":985,"v":8.71},{"t":985.8,"v":-0.6},{"t":986.6,"v":0},
{"t":1043.6,"v":0},{"t":1044,"v":8.81},{"t":1045.5,"v":-1.9},{"t":1047,"v":0},{"t":1049,"v":8.52},{"t":1049.8,"v":-0.6},{"t":1050.6,"v":0},
{"t":1105.6,"v":0},{"t":1106,"v":9.0},{"t":1107.5,"v":-2.5},{"t":1109,"v":0},{"t":1111,"v":8.6},{"t":1111.8,"v":-0.6},{"t":1112.6,"v":0},
{"t":1167.6,"v":0},{"t":1168,"v":8.96},{"t":1169.5,"v":-2.2},{"t":1171,"v":0},{"t":1173,"v":8.78},{"t":1173.8,"v":-0.6},{"t":1174.6,"v":0},
{"t":1229.6,"v":0},{"t":1230,"v":8.98},{"t":1231.5,"v":-2.0},{"t":1233,"v":0},{"t":1235,"v":8.55},{"t":1235.8,"v":-0.6},{"t":1236.6,"v":0},
{"t":1293.6,"v":0},{"t":1294,"v":8.9},{"t":1295.5,"v":-2.3},{"t":1297,"v":0},{"t":1299,"v":8.71},{"t":1299.8,"v":-0.6},{"t":1300.6,"v":0},
{"t":1354.6,"v":0},{"t":1355,"v":8.8},{"t":1356.5,"v":-2.1},{"t":1358,"v":0},{"t":1360,"v":8.45},{"t":1360.8,"v":-0.6},{"t":1361.6,"v":0},
{"t":1418.6,"v":0},{"t":1419,"v":8.97},{"t":1420.5,"v":-2.6},{"t":1422,"v":0},{"t":1424,"v":8.72},{"t":1424.8,"v":-0.6},{"t":1425.6,"v":0},
{"t":1479.6,"v":0},{"t":1480,"v":9.0},{"t":1481.5,"v":-2.0},{"t":1483,"v":0},{"t":1485,"v":8.71},{"t":1485.8,"v":-0.6},{"t":1486.6,"v":0},
{"t":1542.6,"v":0},{"t":1543,"v":8.81},{"t":1544.5,"v":-2.2},{"t":1546,"v":0},{"t":1548,"v":8.52},{"t":1548.8,"v":-0.6},{"t":1549.6,"v":0},
{"t":1604.6,"v":0},{"t":1605,"v":8.98},{"t":1606.5,"v":-2.4},{"t":1608,"v":0},{"t":1610,"v":8.6},{"t":1610.8,"v":-0.6},{"t":1611.6,"v":0},
{"t":1667.6,"v":0},{"t":1668,"v":8.9},{"t":1669.5,"v":-1.9},{"t":1671,"v":0},{"t":1673,"v":8.6},{"t":1673.8,"v":-0.6},{"t":1674.6,"v":0},
{"t":1729.6,"v":0},{"t":1730,"v":8.85},{"t":1731.5,"v":-2.1},{"t":1733,"v":0},{"t":1735,"v":8.5},{"t":1735.8,"v":-0.6},{"t":1736.6,"v":0},
{"t":1793.6,"v":0},{"t":1794,"v":8.95},{"t":1795.5,"v":-2.5},{"t":1797,"v":0},{"t":1799,"v":8.6},{"t":1799.8,"v":-0.6},{"t":1800.6,"v":0},
{"t":1854.6,"v":0},{"t":1855,"v":8.9},{"t":1856.5,"v":-2.0},{"t":1858,"v":0},{"t":1860,"v":8.5},{"t":1860.8,"v":-0.6},{"t":1861.6,"v":0},
{"t":1918.6,"v":0},{"t":1919,"v":8.8},{"t":1920.5,"v":-2.2},{"t":1922,"v":0},{"t":1924,"v":8.4},{"t":1924.8,"v":-0.6},{"t":1925.6,"v":0},
{"t":1983.6,"v":0},{"t":1984,"v":8.7},{"t":1985.5,"v":-1.8},{"t":1987,"v":0},{"t":1989,"v":8.6},{"t":1989.8,"v":-0.6},{"t":1990.6,"v":0},
{"t":2000,"v":0}],
"be":[{"t":0,"v":-0.2},{"t":8,"v":-0.45},{"t":16,"v":-0.15},{"t":24,"v":-0.4},
{"t":32.8,"v":-0.3},{"t":34,"v":9.36},{"t":35.5,"v":-2.2},{"t":37,"v":2.2},{"t":38.5,"v":-3.2},{"t":40,"v":1.9},{"t":41.5,"v":-4.5},{"t":43,"v":1.7},{"t":44.5,"v":-3.4},{"t":46,"v":1.5},{"t":47.5,"v":-2.9},{"t":49,"v":1.2},{"t":50.5,"v":-2.4},{"t":52,"v":1.0},{"t":53.5,"v":-2.0},{"t":55,"v":0.7},{"t":56.5,"v":-1.5},{"t":58,"v":0.4},{"t":60,"v":-1.0},{"t":62,"v":0.1},{"t":64.5,"v":-0.6},{"t":69,"v":-0.15},{"t":76,"v":-0.45},{"t":83,"v":-0.2},
{"t":91.8,"v":-0.35},{"t":93,"v":9.3},{"t":94.5,"v":-2.0},{"t":96,"v":2.4},{"t":97.5,"v":-3.0},{"t":99,"v":2.0},{"t":100.5,"v":-4.45},{"t":102,"v":1.6},{"t":103.5,"v":-3.6},{"t":105,"v":1.4},{"t":106.5,"v":-2.7},{"t":108,"v":1.3},{"t":109.5,"v":-2.2},{"t":111,"v":0.9},{"t":112.5,"v":-1.8},{"t":114,"v":0.8},{"t":115.5,"v":-1.3},{"t":117,"v":0.3},{"t":119,"v":-0.9},{"t":121,"v":0.0},{"t":123.5,"v":-0.55},{"t":128,"v":-0.2},{"t":135,"v":-0.4},{"t":142,"v":-0.25},
{"t":150.8,"v":-0.3},{"t":152,"v":9.14},{"t":153.5,"v":-2.3},{"t":155,"v":2.1},{"t":156.5,"v":-3.3},{"t":158,"v":1.8},{"t":159.5,"v":-4.3},{"t":161,"v":1.8},{"t":162.5,"v":-3.2},{"t":164,"v":1.5},{"t":165.5,"v":-3.0},{"t":167,"v":1.1},{"t":168.5,"v":-2.5},{"t":170,"v":1.0},{"t":171.5,"v":-1.9},{"t":173,"v":0.6},{"t":174.5,"v":-1.6},{"t":176,"v":0.4},{"t":178,"v":-1.1},{"t":180,"v":0.2},{"t":182.5,"v":-0.65},{"t":187,"v":-0.1},{"t":194,"v":-0.5},{"t":201,"v":-0.2},
{"t":209.8,"v":-0.3},{"t":211,"v":9.41},{"t":212.5,"v":-2.2},{"t":214,"v":2.2},{"t":215.5,"v":-3.2},{"t":217,"v":1.9},{"t":218.5,"v":-4.6},{"t":220,"v":1.7},{"t":221.5,"v":-3.4},{"t":223,"v":1.5},{"t":224.5,"v":-2.9},{"t":226,"v":1.2},{"t":227.5,"v":-2.4},{"t":229,"v":1.0},{"t":230.5,"v":-2.0},{"t":232,"v":0.7},{"t":233.5,"v":-1.5},{"t":235,"v":0.4},{"t":237,"v":-1.0},{"t":239,"v":0.1},{"t":241.5,"v":-0.6},{"t":246,"v":-0.15},{"t":253,"v":-0.45},{"t":260,"v":-0.2},
{"t":269.8,"v":-0.35},{"t":271,"v":9.37},{"t":272.5,"v":-2.0},{"t":274,"v":2.4},{"t":275.5,"v":-3.0},{"t":277,"v":2.0},{"t":278.5,"v":-4.55},{"t":280,"v":1.6},{"t":281.5,"v":-3.6},{"t":283,"v":1.4},{"t":284.5,"v":-2.7},{"t":286,"v":1.3},{"t":287.5,"v":-2.2},{"t":289,"v":0.9},{"t":290.5,"v":-1.8},{"t":292,"v":0.8},{"t":293.5,"v":-1.3},{"t":295,"v":0.3},{"t":297,"v":-0.9},{"t":299,"v":0.0},{"t":301.5,"v":-0.55},{"t":306,"v":-0.2},{"t":313,"v":-0.4},{"t":320,"v":-0.25},
{"t":328.8,"v":-0.3},{"t":330,"v":9.17},{"t":331.5,"v":-2.3},{"t":333,"v":2.1},{"t":334.5,"v":-3.3},{"t":336,"v":1.8},{"t":337.5,"v":-4.25},{"t":339,"v":1.8},{"t":340.5,"v":-3.2},{"t":342,"v":1.5},{"t":343.5,"v":-3.0},{"t":345,"v":1.1},{"t":346.5,"v":-2.5},{"t":348,"v":1.0},{"t":349.5,"v":-1.9},{"t":351,"v":0.6},{"t":352.5,"v":-1.6},{"t":354,"v":0.4},{"t":356,"v":-1.1},{"t":358,"v":0.2},{"t":360.5,"v":-0.65},{"t":365,"v":-0.1},{"t":372,"v":-0.5},{"t":379,"v":-0.2},
{"t":388.8,"v":-0.3},{"t":390,"v":9.47},{"t":391.5,"v":-2.2},{"t":393,"v":2.2},{"t":394.5,"v":-3.2},{"t":396,"v":1.9},{"t":397.5,"v":-4.4},{"t":399,"v":1.7},{"t":400.5,"v":-3.4},{"t":402,"v":1.5},{"t":403.5,"v":-2.9},{"t":405,"v":1.2},{"t":406.5,"v":-2.4},{"t":408,"v":1.0},{"t":409.5,"v":-2.0},{"t":411,"v":0.7},{"t":412.5,"v":-1.5},{"t":414,"v":0.4},{"t":416,"v":-1.0},{"t":418,"v":0.1},{"t":420.5,"v":-0.6},{"t":425,"v":-0.15},{"t":432,"v":-0.45},{"t":439,"v":-0.2},
{"t":446.8,"v":-0.35},{"t":448,"v":9.43},{"t":449.5,"v":-2.0},{"t":451,"v":2.4},{"t":452.5,"v":-3.0},{"t":454,"v":2.0},{"t":455.5,"v":-4.5},{"t":457,"v":1.6},{"t":458.5,"v":-3.6},{"t":460,"v":1.4},{"t":461.5,"v":-2.7},{"t":463,"v":1.3},{"t":464.5,"v":-2.2},{"t":466,"v":0.9},{"t":467.5,"v":-1.8},{"t":469,"v":0.8},{"t":470.5,"v":-1.3},{"t":472,"v":0.3},{"t":474,"v":-0.9},{"t":476,"v":0.0},{"t":478.5,"v":-0.55},{"t":483,"v":-0.2},{"t":490,"v":-0.4},{"t":497,"v":-0.25},
{"t":505.8,"v":-0.3},{"t":507,"v":9.14},{"t":508.5,"v":-2.3},{"t":510,"v":2.1},{"t":511.5,"v":-3.3},{"t":513,"v":1.8},{"t":514.5,"v":-4.35},{"t":516,"v":1.8},{"t":517.5,"v":-3.2},{"t":519,"v":1.5},{"t":520.5,"v":-3.0},{"t":522,"v":1.1},{"t":523.5,"v":-2.5},{"t":525,"v":1.0},{"t":526.5,"v":-1.9},{"t":528,"v":0.6},{"t":529.5,"v":-1.6},{"t":531,"v":0.4},{"t":533,"v":-1.1},{"t":535,"v":0.2},{"t":537.5,"v":-0.65},{"t":542,"v":-0.1},{"t":549,"v":-0.5},{"t":556,"v":-0.2},
{"t":564.8,"v":-0.3},{"t":566,"v":9.41},{"t":567.5,"v":-2.2},{"t":569,"v":2.2},{"t":570.5,"v":-3.2},{"t":572,"v":1.9},{"t":573.5,"v":-4.45},{"t":575,"v":1.7},{"t":576.5,"v":-3.4},{"t":578,"v":1.5},{"t":579.5,"v":-2.9},{"t":581,"v":1.2},{"t":582.5,"v":-2.4},{"t":584,"v":1.0},{"t":585.5,"v":-2.0},{"t":587,"v":0.7},{"t":588.5,"v":-1.5},{"t":590,"v":0.4},{"t":592,"v":-1.0},{"t":594,"v":0.1},{"t":596.5,"v":-0.6},{"t":601,"v":-0.15},{"t":608,"v":-0.45},{"t":615,"v":-0.2},
{"t":625.8,"v":-0.35},{"t":627,"v":9.39},{"t":628.5,"v":-2.0},{"t":630,"v":2.4},{"t":631.5,"v":-3.0},{"t":633,"v":2.0},{"t":634.5,"v":-4.4},{"t":636,"v":1.6},{"t":637.5,"v":-3.6},{"t":639,"v":1.4},{"t":640.5,"v":-2.7},{"t":642,"v":1.3},{"t":643.5,"v":-2.2},{"t":645,"v":0.9},{"t":646.5,"v":-1.8},{"t":648,"v":0.8},{"t":649.5,"v":-1.3},{"t":651,"v":0.3},{"t":653,"v":-0.9},{"t":655,"v":0.0},{"t":657.5,"v":-0.55},{"t":662,"v":-0.2},{"t":669,"v":-0.4},{"t":676,"v":-0.25},
{"t":683.8,"v":-0.3},{"t":685,"v":9.07},{"t":686.5,"v":-2.3},{"t":688,"v":2.1},{"t":689.5,"v":-3.3},{"t":691,"v":1.8},{"t":692.5,"v":-4.3},{"t":694,"v":1.8},{"t":695.5,"v":-3.2},{"t":697,"v":1.5},{"t":698.5,"v":-3.0},{"t":700,"v":1.1},{"t":701.5,"v":-2.5},{"t":703,"v":1.0},{"t":704.5,"v":-1.9},{"t":706,"v":0.6},{"t":707.5,"v":-1.6},{"t":709,"v":0.4},{"t":711,"v":-1.1},{"t":713,"v":0.2},{"t":715.5,"v":-0.65},{"t":720,"v":-0.1},{"t":727,"v":-0.5},{"t":734,"v":-0.2},
{"t":743.8,"v":-0.3},{"t":745,"v":9.39},{"t":746.5,"v":-2.2},{"t":748,"v":2.2},{"t":749.5,"v":-3.2},{"t":751,"v":1.9},{"t":752.5,"v":-4.5},{"t":754,"v":1.7},{"t":755.5,"v":-3.4},{"t":757,"v":1.5},{"t":758.5,"v":-2.9},{"t":760,"v":1.2},{"t":761.5,"v":-2.4},{"t":763,"v":1.0},{"t":764.5,"v":-2.0},{"t":766,"v":0.7},{"t":767.5,"v":-1.5},{"t":769,"v":0.4},{"t":771,"v":-1.0},{"t":773,"v":0.1},{"t":775.5,"v":-0.6},{"t":780,"v":-0.15},{"t":787,"v":-0.45},{"t":794,"v":-0.2},
{"t":802.8,"v":-0.35},{"t":804,"v":9.35},{"t":805.5,"v":-2.0},{"t":807,"v":2.4},{"t":808.5,"v":-3.0},{"t":810,"v":2.0},{"t":811.5,"v":-4.45},{"t":813,"v":1.6},{"t":814.5,"v":-3.6},{"t":816,"v":1.4},{"t":817.5,"v":-2.7},{"t":819,"v":1.3},{"t":820.5,"v":-2.2},{"t":822,"v":0.9},{"t":823.5,"v":-1.8},{"t":825,"v":0.8},{"t":826.5,"v":-1.3},{"t":828,"v":0.3},{"t":830,"v":-0.9},{"t":832,"v":0.0},{"t":834.5,"v":-0.55},{"t":839,"v":-0.2},{"t":846,"v":-0.4},{"t":853,"v":-0.25},
{"t":861.8,"v":-0.3},{"t":863,"v":9.1},{"t":864.5,"v":-2.3},{"t":866,"v":2.1},{"t":867.5,"v":-3.3},{"t":869,"v":1.8},{"t":870.5,"v":-4.35},{"t":872,"v":1.8},{"t":873.5,"v":-3.2},{"t":875,"v":1.5},{"t":876.5,"v":-3.0},{"t":878,"v":1.1},{"t":879.5,"v":-2.5},{"t":881,"v":1.0},{"t":882.5,"v":-1.9},{"t":884,"v":0.6},{"t":885.5,"v":-1.6},{"t":887,"v":0.4},{"t":889,"v":-1.1},{"t":891,"v":0.2},{"t":893.5,"v":-0.65},{"t":898,"v":-0.1},{"t":905,"v":-0.5},{"t":912,"v":-0.2},
{"t":920.8,"v":-0.3},{"t":922,"v":9.45},{"t":923.5,"v":-2.2},{"t":925,"v":2.2},{"t":926.5,"v":-3.2},{"t":928,"v":1.9},{"t":929.5,"v":-4.4},{"t":931,"v":1.7},{"t":932.5,"v":-3.4},{"t":934,"v":1.5},{"t":935.5,"v":-2.9},{"t":937,"v":1.2},{"t":938.5,"v":-2.4},{"t":940,"v":1.0},{"t":941.5,"v":-2.0},{"t":943,"v":0.7},{"t":944.5,"v":-1.5},{"t":946,"v":0.4},{"t":948,"v":-1.0},{"t":950,"v":0.1},{"t":952.5,"v":-0.6},{"t":957,"v":-0.15},{"t":964,"v":-0.45},{"t":971,"v":-0.2},
{"t":980.8,"v":-0.35},{"t":982,"v":9.39},{"t":983.5,"v":-2.0},{"t":985,"v":2.4},{"t":986.5,"v":-3.0},{"t":988,"v":2.0},{"t":989.5,"v":-4.5},{"t":991,"v":1.6},{"t":992.5,"v":-3.6},{"t":994,"v":1.4},{"t":995.5,"v":-2.7},{"t":997,"v":1.3},{"t":998.5,"v":-2.2},{"t":1000,"v":0.9},{"t":1001.5,"v":-1.8},{"t":1003,"v":0.8},{"t":1004.5,"v":-1.3},{"t":1006,"v":0.3},{"t":1008,"v":-0.9},{"t":1010,"v":0.0},{"t":1012.5,"v":-0.55},{"t":1017,"v":-0.2},{"t":1024,"v":-0.4},{"t":1031,"v":-0.25},
{"t":1039.8,"v":-0.3},{"t":1041,"v":9.04},{"t":1042.5,"v":-2.3},{"t":1044,"v":2.1},{"t":1045.5,"v":-3.3},{"t":1047,"v":1.8},{"t":1048.5,"v":-4.3},{"t":1050,"v":1.8},{"t":1051.5,"v":-3.2},{"t":1053,"v":1.5},{"t":1054.5,"v":-3.0},{"t":1056,"v":1.1},{"t":1057.5,"v":-2.5},{"t":1059,"v":1.0},{"t":1060.5,"v":-1.9},{"t":1062,"v":0.6},{"t":1063.5,"v":-1.6},{"t":1065,"v":0.4},{"t":1067,"v":-1.1},{"t":1069,"v":0.2},{"t":1071.5,"v":-0.65},{"t":1076,"v":-0.1},{"t":1083,"v":-0.5},{"t":1090,"v":-0.2},
{"t":1098.8,"v":-0.3},{"t":1100,"v":9.37},{"t":1101.5,"v":-2.2},{"t":1103,"v":2.2},{"t":1104.5,"v":-3.2},{"t":1106,"v":1.9},{"t":1107.5,"v":-4.45},{"t":1109,"v":1.7},{"t":1110.5,"v":-3.4},{"t":1112,"v":1.5},{"t":1113.5,"v":-2.9},{"t":1115,"v":1.2},{"t":1116.5,"v":-2.4},{"t":1118,"v":1.0},{"t":1119.5,"v":-2.0},{"t":1121,"v":0.7},{"t":1122.5,"v":-1.5},{"t":1124,"v":0.4},{"t":1126,"v":-1.0},{"t":1128,"v":0.1},{"t":1130.5,"v":-0.6},{"t":1135,"v":-0.15},{"t":1142,"v":-0.45},{"t":1149,"v":-0.2},
{"t":1158.8,"v":-0.35},{"t":1160,"v":9.36},{"t":1161.5,"v":-2.0},{"t":1163,"v":2.4},{"t":1164.5,"v":-3.0},{"t":1166,"v":2.0},{"t":1167.5,"v":-4.4},{"t":1169,"v":1.6},{"t":1170.5,"v":-3.6},{"t":1172,"v":1.4},{"t":1173.5,"v":-2.7},{"t":1175,"v":1.3},{"t":1176.5,"v":-2.2},{"t":1178,"v":0.9},{"t":1179.5,"v":-1.8},{"t":1181,"v":0.8},{"t":1182.5,"v":-1.3},{"t":1184,"v":0.3},{"t":1186,"v":-0.9},{"t":1188,"v":0.0},{"t":1190.5,"v":-0.55},{"t":1195,"v":-0.2},{"t":1202,"v":-0.4},{"t":1209,"v":-0.25},
{"t":1217.8,"v":-0.3},{"t":1219,"v":9.1},{"t":1220.5,"v":-2.3},{"t":1222,"v":2.1},{"t":1223.5,"v":-3.3},{"t":1225,"v":1.8},{"t":1226.5,"v":-4.35},{"t":1228,"v":1.8},{"t":1229.5,"v":-3.2},{"t":1231,"v":1.5},{"t":1232.5,"v":-3.0},{"t":1234,"v":1.1},{"t":1235.5,"v":-2.5},{"t":1237,"v":1.0},{"t":1238.5,"v":-1.9},{"t":1240,"v":0.6},{"t":1241.5,"v":-1.6},{"t":1243,"v":0.4},{"t":1245,"v":-1.1},{"t":1247,"v":0.2},{"t":1249.5,"v":-0.65},{"t":1254,"v":-0.1},{"t":1261,"v":-0.5},{"t":1268,"v":-0.2},
{"t":1276.8,"v":-0.3},{"t":1278,"v":9.36},{"t":1279.5,"v":-2.2},{"t":1281,"v":2.2},{"t":1282.5,"v":-3.2},{"t":1284,"v":1.9},{"t":1285.5,"v":-4.5},{"t":1287,"v":1.7},{"t":1288.5,"v":-3.4},{"t":1290,"v":1.5},{"t":1291.5,"v":-2.9},{"t":1293,"v":1.2},{"t":1294.5,"v":-2.4},{"t":1296,"v":1.0},{"t":1297.5,"v":-2.0},{"t":1299,"v":0.7},{"t":1300.5,"v":-1.5},{"t":1302,"v":0.4},{"t":1304,"v":-1.0},{"t":1306,"v":0.1},{"t":1308.5,"v":-0.6},{"t":1313,"v":-0.15},{"t":1320,"v":-0.45},{"t":1327,"v":-0.2},
{"t":1334.8,"v":-0.35},{"t":1336,"v":9.45},{"t":1337.5,"v":-2.0},{"t":1339,"v":2.4},{"t":1340.5,"v":-3.0},{"t":1342,"v":2.0},{"t":1343.5,"v":-4.45},{"t":1345,"v":1.6},{"t":1346.5,"v":-3.6},{"t":1348,"v":1.4},{"t":1349.5,"v":-2.7},{"t":1351,"v":1.3},{"t":1352.5,"v":-2.2},{"t":1354,"v":0.9},{"t":1355.5,"v":-1.8},{"t":1357,"v":0.8},{"t":1358.5,"v":-1.3},{"t":1360,"v":0.3},{"t":1362,"v":-0.9},{"t":1364,"v":0.0},{"t":1366.5,"v":-0.55},{"t":1371,"v":-0.2},{"t":1378,"v":-0.4},{"t":1385,"v":-0.25},
{"t":1396.8,"v":-0.3},{"t":1398,"v":9.17},{"t":1399.5,"v":-2.3},{"t":1401,"v":2.1},{"t":1402.5,"v":-3.3},{"t":1404,"v":1.8},{"t":1405.5,"v":-4.3},{"t":1407,"v":1.8},{"t":1408.5,"v":-3.2},{"t":1410,"v":1.5},{"t":1411.5,"v":-3.0},{"t":1413,"v":1.1},{"t":1414.5,"v":-2.5},{"t":1416,"v":1.0},{"t":1417.5,"v":-1.9},{"t":1419,"v":0.6},{"t":1420.5,"v":-1.6},{"t":1422,"v":0.4},{"t":1424,"v":-1.1},{"t":1426,"v":0.2},{"t":1428.5,"v":-0.65},{"t":1433,"v":-0.1},{"t":1440,"v":-0.5},{"t":1447,"v":-0.2},
{"t":1454.8,"v":-0.3},{"t":1456,"v":9.33},{"t":1457.5,"v":-2.2},{"t":1459,"v":2.2},{"t":1460.5,"v":-3.2},{"t":1462,"v":1.9},{"t":1463.5,"v":-4.4},{"t":1465,"v":1.7},{"t":1466.5,"v":-3.4},{"t":1468,"v":1.5},{"t":1469.5,"v":-2.9},{"t":1471,"v":1.2},{"t":1472.5,"v":-2.4},{"t":1474,"v":1.0},{"t":1475.5,"v":-2.0},{"t":1477,"v":0.7},{"t":1478.5,"v":-1.5},{"t":1480,"v":0.4},{"t":1482,"v":-1.0},{"t":1484,"v":0.1},{"t":1486.5,"v":-0.6},{"t":1491,"v":-0.15},{"t":1498,"v":-0.45},{"t":1505,"v":-0.2},
{"t":1513.8,"v":-0.35},{"t":1515,"v":9.46},{"t":1516.5,"v":-2.0},{"t":1518,"v":2.4},{"t":1519.5,"v":-3.0},{"t":1521,"v":2.0},{"t":1522.5,"v":-4.5},{"t":1524,"v":1.6},{"t":1525.5,"v":-3.6},{"t":1527,"v":1.4},{"t":1528.5,"v":-2.7},{"t":1530,"v":1.3},{"t":1531.5,"v":-2.2},{"t":1533,"v":0.9},{"t":1534.5,"v":-1.8},{"t":1536,"v":0.8},{"t":1537.5,"v":-1.3},{"t":1539,"v":0.3},{"t":1541,"v":-0.9},{"t":1543,"v":0.0},{"t":1545.5,"v":-0.55},{"t":1550,"v":-0.2},{"t":1557,"v":-0.4},{"t":1564,"v":-0.25},
{"t":1572.8,"v":-0.3},{"t":1574,"v":9.18},{"t":1575.5,"v":-2.3},{"t":1577,"v":2.1},{"t":1578.5,"v":-3.3},{"t":1580,"v":1.8},{"t":1581.5,"v":-4.35},{"t":1583,"v":1.8},{"t":1584.5,"v":-3.2},{"t":1586,"v":1.5},{"t":1587.5,"v":-3.0},{"t":1589,"v":1.1},{"t":1590.5,"v":-2.5},{"t":1592,"v":1.0},{"t":1593.5,"v":-1.9},{"t":1595,"v":0.6},{"t":1596.5,"v":-1.6},{"t":1598,"v":0.4},{"t":1600,"v":-1.1},{"t":1602,"v":0.2},{"t":1604.5,"v":-0.65},{"t":1609,"v":-0.1},{"t":1616,"v":-0.5},{"t":1623,"v":-0.2},
{"t":1631.8,"v":-0.3},{"t":1633,"v":9.34},{"t":1634.5,"v":-2.2},{"t":1636,"v":2.2},{"t":1637.5,"v":-3.2},{"t":1639,"v":1.9},{"t":1640.5,"v":-4.45},{"t":1642,"v":1.7},{"t":1643.5,"v":-3.4},{"t":1645,"v":1.5},{"t":1646.5,"v":-2.9},{"t":1648,"v":1.2},{"t":1649.5,"v":-2.4},{"t":1651,"v":1.0},{"t":1652.5,"v":-2.0},{"t":1654,"v":0.7},{"t":1655.5,"v":-1.5},{"t":1657,"v":0.4},{"t":1659,"v":-1.0},{"t":1661,"v":0.1},{"t":1663.5,"v":-0.6},{"t":1668,"v":-0.15},{"t":1675,"v":-0.45},{"t":1682,"v":-0.2},
{"t":1692.8,"v":-0.35},{"t":1694,"v":9.3},{"t":1695.5,"v":-2.0},{"t":1697,"v":2.4},{"t":1698.5,"v":-3.0},{"t":1700,"v":2.0},{"t":1701.5,"v":-4.4},{"t":1703,"v":1.6},{"t":1704.5,"v":-3.6},{"t":1706,"v":1.4},{"t":1707.5,"v":-2.7},{"t":1709,"v":1.3},{"t":1710.5,"v":-2.2},{"t":1712,"v":0.9},{"t":1713.5,"v":-1.8},{"t":1715,"v":0.8},{"t":1716.5,"v":-1.3},{"t":1718,"v":0.3},{"t":1720,"v":-0.9},{"t":1722,"v":0.0},{"t":1724.5,"v":-0.55},{"t":1729,"v":-0.2},{"t":1736,"v":-0.4},{"t":1743,"v":-0.25},
{"t":1750.8,"v":-0.3},{"t":1752,"v":9.4},{"t":1753.5,"v":-2.3},{"t":1755,"v":2.1},{"t":1756.5,"v":-3.3},{"t":1758,"v":1.8},{"t":1759.5,"v":-4.5},{"t":1761,"v":1.8},{"t":1762.5,"v":-3.2},{"t":1764,"v":1.5},{"t":1765.5,"v":-3.0},{"t":1767,"v":1.1},{"t":1768.5,"v":-2.5},{"t":1770,"v":1.0},{"t":1771.5,"v":-1.9},{"t":1773,"v":0.6},{"t":1774.5,"v":-1.6},{"t":1776,"v":0.4},{"t":1778,"v":-1.1},{"t":1780,"v":0.2},{"t":1782.5,"v":-0.65},{"t":1787,"v":-0.1},{"t":1794,"v":-0.5},{"t":1801,"v":-0.2},
{"t":1810.8,"v":-0.3},{"t":1812,"v":9.2},{"t":1813.5,"v":-2.2},{"t":1815,"v":2.2},{"t":1816.5,"v":-3.2},{"t":1818,"v":1.9},{"t":1819.5,"v":-4.3},{"t":1821,"v":1.7},{"t":1822.5,"v":-3.4},{"t":1824,"v":1.5},{"t":1825.5,"v":-2.9},{"t":1827,"v":1.2},{"t":1828.5,"v":-2.4},{"t":1830,"v":1.0},{"t":1831.5,"v":-2.0},{"t":1833,"v":0.7},{"t":1834.5,"v":-1.5},{"t":1836,"v":0.4},{"t":1838,"v":-1.0},{"t":1840,"v":0.1},{"t":1842.5,"v":-0.6},{"t":1847,"v":-0.15},{"t":1854,"v":-0.45},{"t":1861,"v":-0.2},
{"t":1869.8,"v":-0.35},{"t":1871,"v":9.35},{"t":1872.5,"v":-2.0},{"t":1874,"v":2.4},{"t":1875.5,"v":-3.0},{"t":1877,"v":2.0},{"t":1878.5,"v":-4.45},{"t":1880,"v":1.6},{"t":1881.5,"v":-3.6},{"t":1883,"v":1.4},{"t":1884.5,"v":-2.7},{"t":1886,"v":1.3},{"t":1887.5,"v":-2.2},{"t":1889,"v":0.9},{"t":1890.5,"v":-1.8},{"t":1892,"v":0.8},{"t":1893.5,"v":-1.3},{"t":1895,"v":0.3},{"t":1897,"v":-0.9},{"t":1899,"v":0.0},{"t":1901.5,"v":-0.55},{"t":1906,"v":-0.2},{"t":1913,"v":-0.4},{"t":1920,"v":-0.25},
{"t":1928.8,"v":-0.3},{"t":1930,"v":9.3},{"t":1931.5,"v":-2.3},{"t":1933,"v":2.1},{"t":1934.5,"v":-3.3},{"t":1936,"v":1.8},{"t":1937.5,"v":-4.4},{"t":1939,"v":1.8},{"t":1940.5,"v":-3.2},{"t":1942,"v":1.5},{"t":1943.5,"v":-3.0},{"t":1945,"v":1.1},{"t":1946.5,"v":-2.5},{"t":1948,"v":1.0},{"t":1949.5,"v":-1.9},{"t":1951,"v":0.6},{"t":1952.5,"v":-1.6},{"t":1954,"v":0.4},{"t":1956,"v":-1.1},{"t":1958,"v":0.2},{"t":1960.5,"v":-0.65},{"t":1965,"v":-0.1},{"t":1972,"v":-0.5},{"t":1979,"v":-0.2},
{"t":1987.8,"v":-0.3},{"t":1989,"v":9.3},{"t":1990.5,"v":-2.2},{"t":1992,"v":2.2},{"t":1993.5,"v":-3.2},{"t":1995,"v":1.9},{"t":1996.5,"v":-4.3},{"t":1998,"v":1.7},{"t":1999.5,"v":-3.4},{"t":2000,"v":-1.0}]
},
"hconcat":[
{"width":1490,"height":1027,
"view":{"stroke":"#4d4d4d","strokeWidth":1.5},
"title":{"text":"(a)","dx":-128,"dy":41},
"resolve":{"axis":{"x":"independent","y":"independent"}},
"layer":[
{"data":{"name":"ae"},"mark":{"type":"line","clip":true,"strokeWidth":2.5,"strokeJoin":"bevel"},
"encoding":{
"x":{"field":"t","type":"quantitative","title":"Time (s)","scale":{"domain":[0,2000],"nice":false,"zero":false},"axis":{"values":[0,200,400,600,800,1000,1200,1400,1600,1800,2000],"labelExpr":"format(datum.value / 1000, '~g')"}},
"y":{"field":"v","type":"quantitative","title":"Acceleration (g)","scale":{"domain":[-49.8,50],"nice":false,"zero":false},"axis":{"values":[-40,-30,-20,-10,0,10,20,30,40,50],"format":"d","titlePadding":12}},
"color":{"datum":"Experiment","type":"nominal","scale":{"domain":["Experiment","Theory"],"range":["#D95319","#0072BD"]},"legend":{"title":null,"orient":"none","legendX":1246,"legendY":4}},
"strokeDash":{"datum":"Experiment","type":"nominal","scale":{"domain":["Experiment","Theory"],"range":[[12,9],[1,0]]},"legend":{"title":null,"orient":"none","legendX":1246,"legendY":4}}
}},
{"data":{"name":"ab"},"mark":{"type":"line","clip":true,"strokeWidth":2.5,"strokeJoin":"bevel"},
"encoding":{
"x":{"field":"t","type":"quantitative","title":"Time (s)","axis":{"orient":"top","values":[0,200,400,600,800,1000,1200,1400,1600,1800,2000],"labels":false,"title":null,"domain":false}},
"y":{"field":"v","type":"quantitative","title":"Acceleration (g)","axis":{"orient":"right","values":[-40,-30,-20,-10,0,10,20,30,40,50],"labels":false,"title":null,"domain":false}},
"color":{"datum":"Theory","type":"nominal"},
"strokeDash":{"datum":"Theory","type":"nominal"}
}}
]},
{"width":1488,"height":1041,
"title":{"text":"(b)","dx":-108,"dy":26},
"resolve":{"axis":{"x":"independent","y":"independent"}},
"layer":[
{"data":{"name":"be"},"mark":{"type":"line","clip":true,"strokeWidth":3,"strokeJoin":"bevel"},
"encoding":{
"x":{"field":"t","type":"quantitative","title":"Time (s)","scale":{"domain":[0,2000],"nice":false,"zero":false},"axis":{"values":[0,200,400,600,800,1000,1200,1400,1600,1800,2000],"labelExpr":"format(datum.value / 1000, '~g')"}},
"y":{"field":"v","type":"quantitative","title":"Force (N)","scale":{"domain":[-5,10.22],"nice":false,"zero":false},"axis":{"values":[-5,0,5,10],"format":"d","domain":false}},
"color":{"datum":"Experiment","type":"nominal","scale":{"domain":["Experiment","Theory"],"range":["#FF0000","#0072BD"]},"legend":{"title":null,"orient":"none","legendX":1226,"legendY":26,"strokeColor":"#888888"}},
"strokeDash":{"datum":"Experiment","type":"nominal","scale":{"domain":["Experiment","Theory"],"range":[[12,9],[1,0]]},"legend":{"title":null,"orient":"none","legendX":1226,"legendY":26,"strokeColor":"#888888"}}
}},
{"data":{"name":"bb"},"mark":{"type":"line","clip":true,"strokeWidth":3,"strokeJoin":"bevel"},
"encoding":{
"x":{"field":"t","type":"quantitative","title":"Time (s)","axis":{"orient":"top","offset":-15,"values":[0,200,400,600,800,1000,1200,1400,1600,1800,2000],"labels":false,"title":null,"domain":false}},
"y":{"field":"v","type":"quantitative","title":"Force (N)","axis":{"orient":"right","values":[-5,0,5,10],"labels":false,"title":null,"domain":false}},
"color":{"datum":"Theory","type":"nominal"},
"strokeDash":{"datum":"Theory","type":"nominal"}
}},
{"data":{"values":[{"xa":0,"xb":2000,"ya":10,"yb":10},{"xa":2000,"xb":2000,"ya":-5,"yb":10},{"xa":0,"xb":0,"ya":-5,"yb":10}]},
"mark":{"type":"rule","color":"#4d4d4d","strokeWidth":1.5},
"encoding":{
"x":{"field":"xa","type":"quantitative","axis":null},
"x2":{"field":"xb"},
"y":{"field":"ya","type":"quantitative","axis":null},
"y2":{"field":"yb"}
}}
]}
]
}
